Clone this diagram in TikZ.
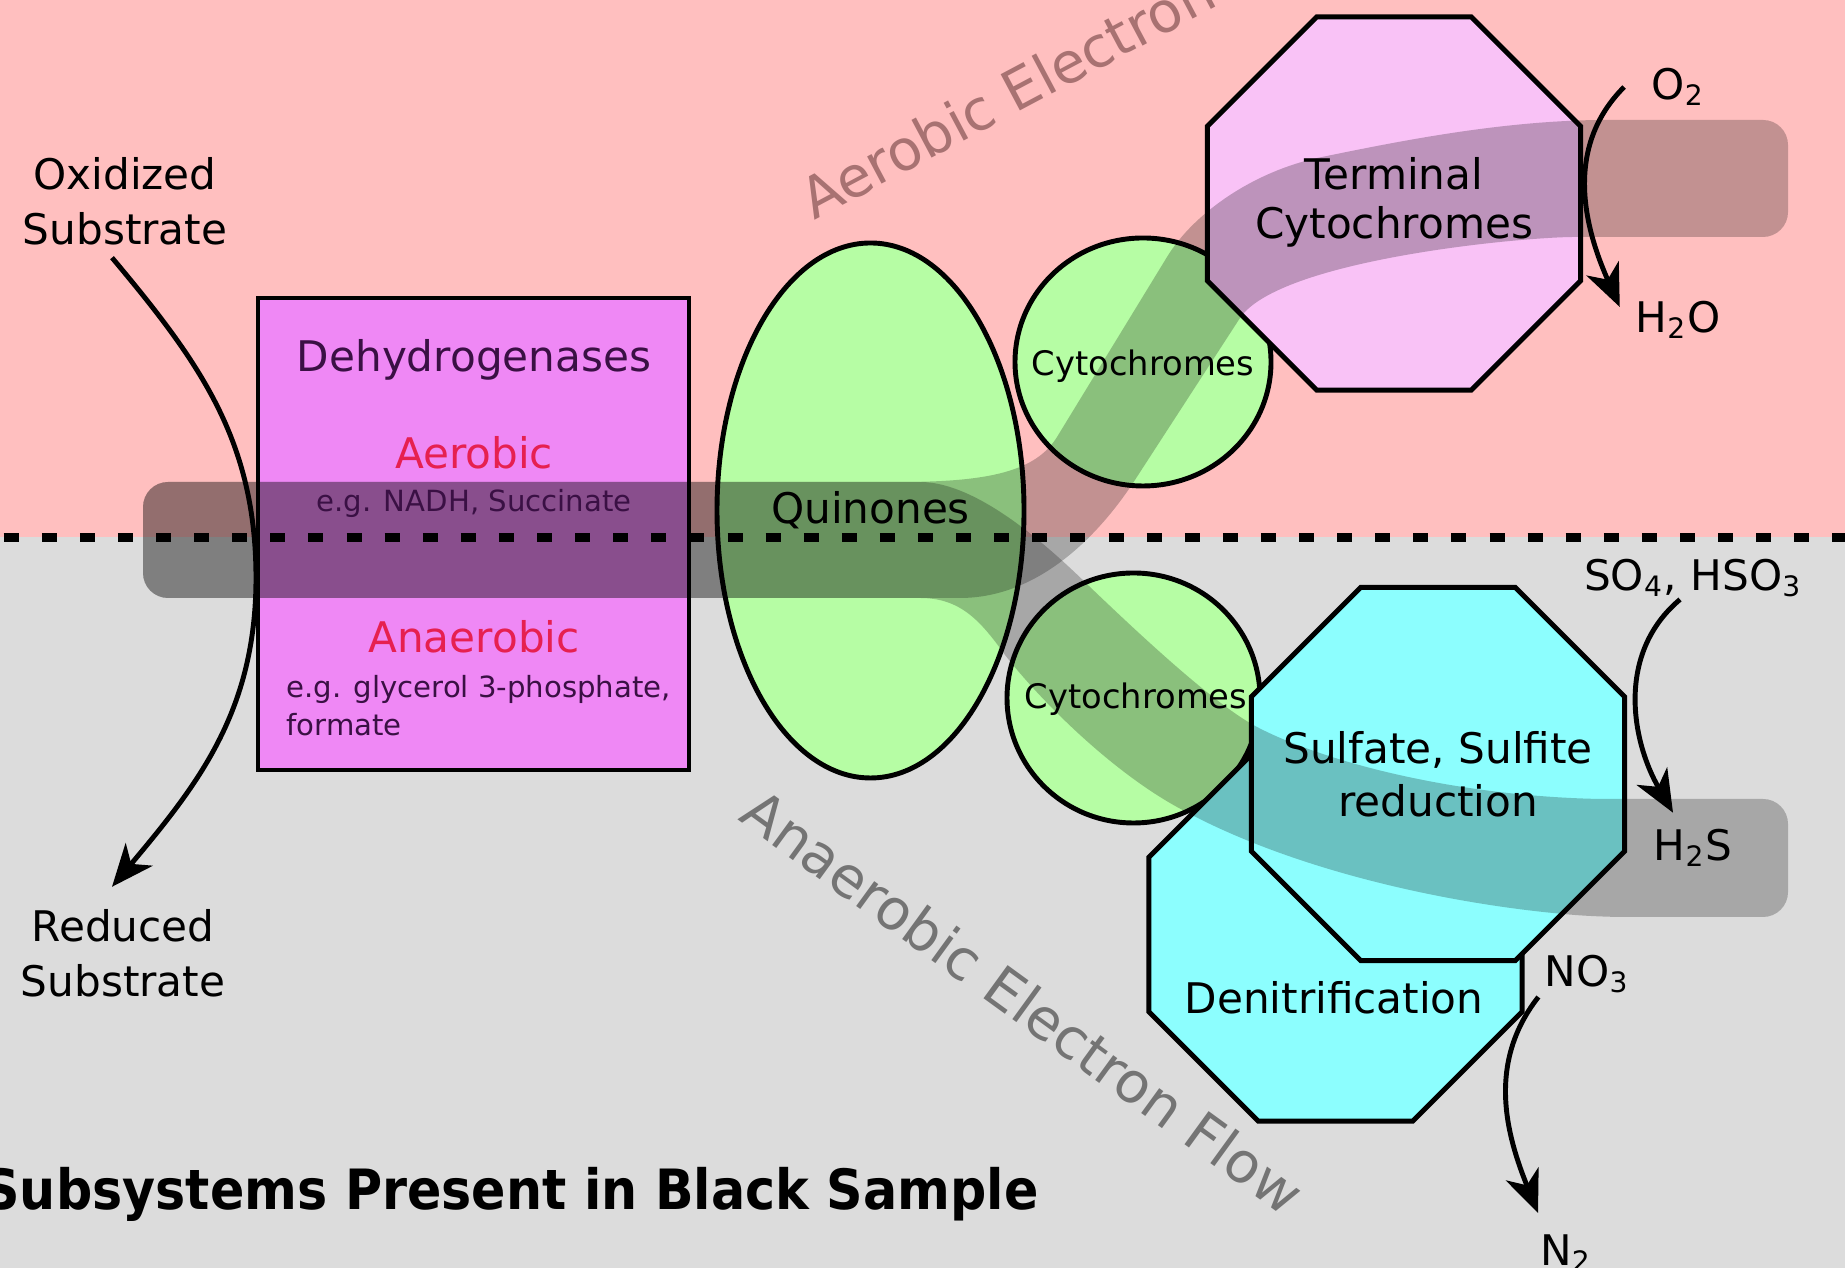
\documentclass[tikz,border=0pt,12pt]{standalone}
\usepackage{fontspec}
\setmainfont{DejaVu Sans}
\usepackage{tikz}
\usetikzlibrary{shapes.geometric,arrows.meta,positioning}
\definecolor{aerobg}{HTML}{FFBFBF}
\definecolor{anaerobg}{HTML}{DCDCDC}
\definecolor{dehyfill}{HTML}{EF88F5}
\definecolor{quinfill}{HTML}{B6FDA4}
\definecolor{termfill}{HTML}{F9C2F6}
\definecolor{sulffill}{HTML}{8CFEFE}
\definecolor{dehytext}{HTML}{3A1044}
\definecolor{redtext}{HTML}{E62050}
\definecolor{aeroflow}{HTML}{A87272}
\definecolor{anaeroflow}{HTML}{747474}

\begin{document}
\begin{tikzpicture}[line width=1.4pt,
    lbl/.style={font=\fontsize{12}{15}\selectfont, align=center, inner sep=0pt},
    smalltxt/.style={font=\fontsize{8.3}{10.8}\selectfont, inner sep=0pt},
    cytotxt/.style={font=\fontsize{9.6}{11}\selectfont, inner sep=0pt},
    flowtxt/.style={font=\fontsize{16}{19}\selectfont, anchor=base west, inner sep=0pt},
    octo/.style={regular polygon, regular polygon sides=8, draw, inner sep=0pt, minimum size=4.04cm},
    cyto/.style={ellipse, draw, fill=quinfill, inner sep=0pt},
    bandfill/.style={fill=black, opacity=0.24}]
   \useasboundingbox (0,0) rectangle (18.45,12.68);
   \clip (0,0) rectangle (18.45,12.68);
   % aerobic / anaerobic halves
   \fill[aerobg] (0,7.305) rectangle (18.45,12.68);
   \fill[anaerobg] (0,0) rectangle (18.45,7.305);

   % complexes
   \node (dehy) [draw, fill=dehyfill, minimum width=4.31cm, minimum height=4.72cm] at (4.735,7.34) {};
   \node (quin) [ellipse, draw, fill=quinfill, minimum width=3.07cm, minimum height=5.35cm, lbl] at (8.705,7.575) {Quinones};
   \node (cytup) [cyto, minimum width=2.56cm, minimum height=2.48cm] at (11.43,9.06) {};
   \node (cytdown) [cyto, minimum width=2.53cm, minimum height=2.50cm] at (11.335,5.70) {};
   \node (denit) [octo, fill=sulffill] at (13.355,3.335) {};
   \node (sulf) [octo, fill=sulffill] at (14.38,4.94) {};
   \node (term) [octo, fill=termfill] at (13.94,10.645) {};

   % complex names
   \node (cytuplbl) [cytotxt] at (11.43,9.02) {Cytochromes};
   \node (cytdownlbl) [cytotxt] at (11.36,5.69) {Cytochromes};
   \node (sulflbl) [lbl] at (14.38,4.94) {Sulfate, Sulfite\\reduction};
   \node (termlbl) [lbl, font=\fontsize{12}{14}\selectfont] at (13.94,10.66) {Terminal\\Cytochromes};
   \node (denitlbl) [lbl] at (13.34,2.70) {Denitrification};

   % electron flow band
   \fill[bandfill] (2.00,7.86) -- (9.00,7.86) .. controls (9.90,7.86) and (10.36,7.97) .. (10.57,8.31)
      -- (11.67,10.11) .. controls (11.93,10.54) and (12.53,10.97) .. (13.22,11.11)
      .. controls (14.00,11.27) and (15.00,11.47) .. (16.00,11.48)
      [rounded corners=0.25cm] -- (17.88,11.48) -- (17.88,10.31) -- (16.00,10.31)
      [sharp corners] .. controls (15.20,10.31) and (12.79,10.08) .. (12.40,9.50)
      -- (11.33,7.85) .. controls (11.00,7.35) and (10.40,6.70) .. (9.60,6.70)
      -- (2.00,6.70) [rounded corners=0.25cm] -- (1.43,6.70) -- (1.43,7.86) -- cycle;
   \fill[bandfill] (2.00,7.86) -- (9.20,7.86) .. controls (9.80,7.86) and (10.54,7.16) .. (10.90,6.81)
      .. controls (11.33,6.40) and (12.13,5.64) .. (12.57,5.41)
      .. controls (13.20,5.08) and (14.50,4.72) .. (16.00,4.69)
      [rounded corners=0.25cm] -- (17.88,4.69) -- (17.88,3.51) -- (16.00,3.51)
      [sharp corners] .. controls (14.50,3.63) and (12.90,3.98) .. (11.77,4.61)
      .. controls (11.10,4.98) and (10.40,5.68) .. (10.05,6.13)
      .. controls (9.80,6.48) and (9.60,6.70) .. (9.20,6.70)
      -- (2.00,6.70) [rounded corners=0.25cm] -- (1.43,6.70) -- (1.43,7.86) -- cycle;

   % membrane
   \draw[line width=2.3pt, dash pattern=on 4.27pt off 6.57pt, dash phase=9.79pt] (0,7.305) -- (18.45,7.305);

   % dehydrogenase texts
   \begin{scope}[every node/.style={text=dehytext}]
    \node (dehytitle) [lbl] at (4.74,9.08) {Dehydrogenases};
    \node (aerolbl) [lbl, text=redtext] at (4.74,8.15) {Aerobic};
    \node (aeroeg) [smalltxt] at (4.74,7.645) {e.g. NADH, Succinate};
    \node (anaerolbl) [lbl, text=redtext] at (4.74,6.31) {Anaerobic};
    \node (anaeroeg) [smalltxt, anchor=west, align=left] at (2.84,5.62) {e.g. glycerol 3-phosphate,\\formate};
   \end{scope}

   % substrates and products
   \node (oxsub) [lbl, font=\fontsize{12}{15.6}\selectfont] at (1.25,10.665) {Oxidized\\Substrate};
   \node (redsub) [lbl, font=\fontsize{12}{15.6}\selectfont] at (1.23,3.15) {Reduced\\Substrate};
   \node (o2) [lbl] at (16.78,11.81) {O\textsubscript{2}};
   \node (h2o) [lbl] at (16.78,9.48) {H\textsubscript{2}O};
   \node (so4) [lbl] at (16.93,6.90) {SO\textsubscript{4}, HSO\textsubscript{3}};
   \node (h2s) [lbl] at (16.93,4.20) {H\textsubscript{2}S};
   \node (no3) [lbl] at (15.87,2.94) {NO\textsubscript{3}};
   \node (n2) [lbl, anchor=north] at (15.66,0.36) {N\textsubscript{2}};
   \coordinate (subbend) at (2.56,6.9);

   \node (aeroflowlbl) [flowtxt, text=aeroflow, rotate=28] at (8.12,10.46) {Aerobic Electron Flow};
   \node (anaeroflowlbl) [flowtxt, text=anaeroflow, rotate=-36] at (7.35,4.50) {Anaerobic Electron Flow};
   \node (title) [anchor=base east, inner sep=0pt, font=\bfseries\fontsize{15.8}{19}\selectfont] at (10.41,0.58)
      {\scalebox{0.913}[1]{Subsystems Present in Black Sample}};

   \begin{scope}[-{Stealth[length=12pt,width=10pt,inset=3.5pt]}, line width=1.4pt]
    \draw ([xshift=-1.3mm,yshift=-1mm]oxsub.south) to[out=-50,in=90] (subbend)
       to[out=-90,in=50] ([xshift=-1.1mm,yshift=2mm]redsub.north);
    \draw ([xshift=-2.5mm]o2.west) to[out=-135, in=114] ([xshift=-1.35mm,yshift=1.3mm]h2o.west);
    \draw ([xshift=-1.3mm]so4.south) to[out=-140, in=120] ([xshift=-2mm,yshift=1.4mm]h2s.north);
    \draw ([xshift=-0.4mm,yshift=-2.3mm]no3.west) to[out=-128, in=112] ([xshift=-2.8mm,yshift=1.9mm]n2.north);
   \end{scope}
\end{tikzpicture}
\end{document}
